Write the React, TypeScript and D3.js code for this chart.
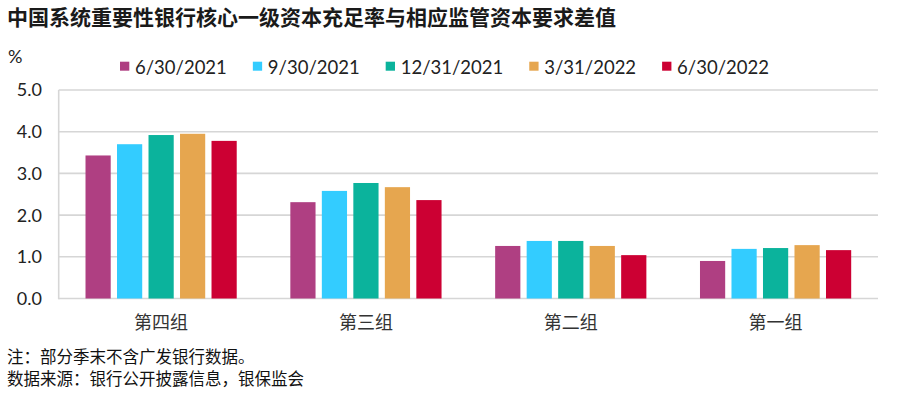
import React, { useEffect, useRef } from "react";
import * as d3 from "d3";

const title = "中国系统重要性银行核心一级资本充足率与相应监管资本要求差值";
const categories = ["第四组", "第三组", "第二组", "第一组"];
const seriesNames = ["6/30/2021", "9/30/2021", "12/31/2021", "3/31/2022", "6/30/2022"];
const seriesColors = ["#AF3F82", "#33CCFF", "#0BB39C", "#E6A64F", "#CC0033"];
const q2_2021 = [3.43, 2.31, 1.26, 0.9];
const q3_2021 = [3.7, 2.58, 1.38, 1.19];
const q4_2021 = [3.92, 2.77, 1.38, 1.21];
const q1_2022 = [3.95, 2.67, 1.26, 1.28];
const q2_2022 = [3.78, 2.36, 1.04, 1.16];
const seriesValues = [q2_2021, q3_2021, q4_2021, q1_2022, q2_2022];
const yTicks = [0, 1, 2, 3, 4, 5];
const noteLines = ["注：部分季末不含广发银行数据。", "数据来源：银行公开披露信息，银保监会"];

const W = 902;
const H = 393;
const CJK = "'Noto Sans CJK SC', 'Noto Sans', sans-serif";
const LAT = "Lato, 'Noto Sans', sans-serif";

export default function App() {
  const ref = useRef<SVGSVGElement | null>(null);

  useEffect(() => {
    const svg = d3.select(ref.current);
    svg.selectAll("*").remove();

    const left = 58.7, right = 878, top = 90, bottom = 298.5;
    const x0 = d3.scaleBand<string>().domain(categories).range([left, right]).paddingInner(0.231).paddingOuter(0.1155);
    const x1 = d3.scaleBand<string>().domain(seriesNames).range([0, x0.bandwidth()]).paddingInner(0.2).paddingOuter(0.1);
    const y = d3.scaleLinear().domain([0, 5]).range([bottom, top]);

    // title
    svg.append("text").attr("x", 7).attr("y", 25).attr("font-family", CJK).attr("font-weight", 700)
      .attr("font-size", 21).attr("fill", "#1a1a1a").text(title);

    // unit
    svg.append("text").attr("x", 8).attr("y", 63).attr("font-family", LAT).attr("font-size", 18)
      .attr("fill", "#222").text("%");

    // grid
    svg.append("g").selectAll("line").data(yTicks).join("line")
      .attr("x1", left).attr("x2", right).attr("y1", d => y(d)).attr("y2", d => y(d))
      .attr("stroke", "#d6d6d6").attr("stroke-width", 1.6);
    svg.append("line").attr("x1", left).attr("x2", left).attr("y1", y(5)).attr("y2", y(0) + 0.8)
      .attr("stroke", "#d6d6d6").attr("stroke-width", 1.6);

    // y tick labels
    svg.append("g").selectAll("text").data(yTicks).join("text")
      .attr("x", 42).attr("y", d => y(d)).attr("dy", "0.36em").attr("text-anchor", "end")
      .attr("font-family", LAT).attr("font-size", 18).attr("fill", "#222")
      .text(d => d3.format(".1f")(d));

    // bars
    const g = svg.append("g");
    seriesNames.forEach((s, si) => {
      g.append("g").attr("fill", seriesColors[si]).selectAll("rect").data(seriesValues[si]).join("rect")
        .attr("x", (_, i) => (x0(categories[i]) as number) + (x1(s) as number))
        .attr("width", x1.bandwidth())
        .attr("y", d => y(d))
        .attr("height", d => y(0) - y(d));
    });

    // category labels
    svg.append("g").selectAll("text").data(categories).join("text")
      .attr("x", d => (x0(d) as number) + x0.bandwidth() / 2).attr("y", 329)
      .attr("text-anchor", "middle").attr("font-family", CJK).attr("font-size", 18).attr("fill", "#333")
      .text(d => d);

    // legend
    const lg = svg.append("g");
    let lx = 120;
    seriesNames.forEach((s, si) => {
      lg.append("rect").attr("x", lx).attr("y", 61.7).attr("width", 9.3).attr("height", 9).attr("fill", seriesColors[si]);
      const t = lg.append("text").attr("x", lx + 15).attr("y", 74).attr("font-family", LAT).attr("font-size", 18.5)
        .attr("fill", "#222").text(s);
      const w = (t.node() as SVGTextElement).getComputedTextLength();
      lx += 15 + w + 26;
    });

    // notes
    svg.append("g").selectAll("text").data(noteLines).join("text")
      .attr("x", 7).attr("y", (_, i) => 363 + i * 22).attr("font-family", CJK).attr("font-size", 16.5)
      .attr("fill", "#111").text(d => d);
  }, []);

  return (
    <svg ref={ref} width={W} height={H} style={{ position: "absolute", left: 0, top: 0, background: "#fff" }} />
  );
}
